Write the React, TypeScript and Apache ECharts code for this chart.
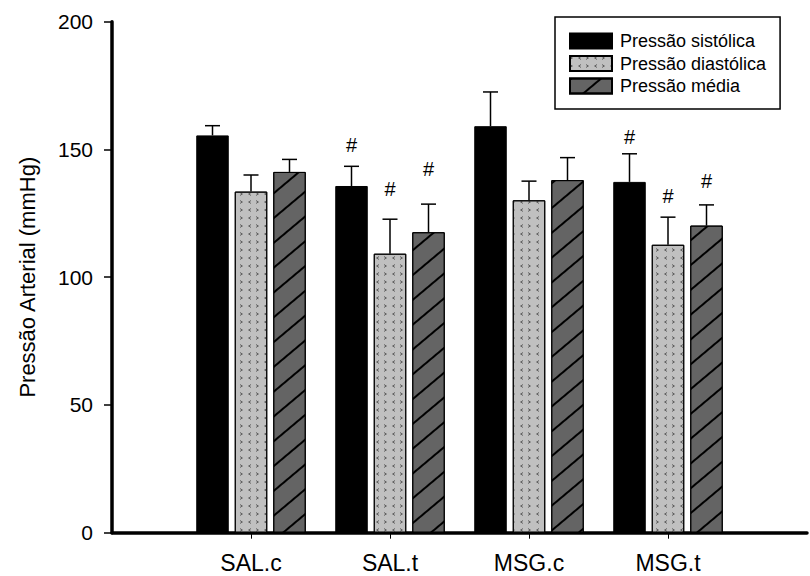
import React, { useEffect, useRef } from "react";
import * as echarts from "echarts";

const categories = ["SAL.c", "SAL.t", "MSG.c", "MSG.t"];
const seriesNames = ["Pressão sistólica", "Pressão diastólica", "Pressão média"];
const sistolica = [155.5, 135.7, 159.1, 137.3];
const sistolicaErr = [3.8, 7.7, 13.4, 11.0];
const diastolica = [133.5, 109.2, 130.1, 112.7];
const diastolicaErr = [6.5, 13.5, 7.5, 10.8];
const media = [141.2, 117.6, 138.0, 120.2];
const mediaErr = [4.9, 11.0, 8.8, 8.1];
// "#" significance marks: [category index, series index, height of mark]
const hashMarks = [
  [1, 0, 151.7],
  [1, 1, 134.5],
  [1, 2, 142.3],
  [3, 0, 154.9],
  [3, 1, 131.8],
  [3, 2, 137.7],
];
const yTicks = [0, 50, 100, 150, 200];

const FONT = "'Liberation Sans', Arial, sans-serif";
const BAR_W = 32.5;
const GAP = 6;
const OFFSET = BAR_W + GAP;

export default function App() {
  const ref = useRef<HTMLDivElement>(null);
  useEffect(() => {
    if (!ref.current) return;
    const chart = echarts.init(ref.current, null, { renderer: "svg" });
    const axisCats = ["", ...categories, ""];
    const pad = (arr: number[]) => ["-", ...arr, "-"];
    const values = [sistolica, diastolica, media];
    const errs = [sistolicaErr, diastolicaErr, mediaErr];
    const errData: number[][] = [];
    values.forEach((vals, s) =>
      vals.forEach((v, i) => errData.push([i + 1, v, errs[s][i], s]))
    );
    const hashData = hashMarks.map((h) => [h[0] + 1, h[2], h[1]]);

    const decals: any[] = [
      undefined,
      {
        symbol: [
          "path://M0,0L10,6L0,12L0,9L6,6L0,3Z",
          "path://M10,0L0,6L10,12L10,9L4,6L10,3Z",
        ],
        symbolSize: 1,
        color: "#3a3a3a",
        dashArrayX: [[3, 5]],
        dashArrayY: [3.5, 4],
        rotation: 0,
      },
      {
        symbol: "rect",
        symbolSize: 1,
        color: "#000",
        dashArrayX: [1, 0],
        dashArrayY: [1.3, 16.5],
        rotation: -Math.PI / 4.5,
      },
    ];
    const colors = ["#000000", "#c0c0c0", "#646464"];

    const barSeries = values.map((vals, s) => ({
      name: seriesNames[s],
      type: "bar",
      data: pad(vals),
      barWidth: BAR_W,
      barGap: (GAP / BAR_W) * 100 + "%",
      itemStyle: {
        color: colors[s],
        borderColor: "#000",
        borderWidth: 1,
        decal: decals[s],
      },
      z: 2,
    }));

    chart.setOption({
      animation: false,
      grid: {
        left: 112,
        top: 21.7,
        right: 810 - (112 + 5 * 141.5),
        bottom: 576 - 532.7,
      },
      legend: {
        data: seriesNames,
        orient: "vertical",
        left: 555,
        top: 17,
        icon: "rect",
        itemWidth: 42,
        itemHeight: 15,
        itemGap: 4.5,
        padding: [15, 14, 14, 14],
        borderColor: "#000",
        borderWidth: 1.5,
        textStyle: { fontSize: 18, color: "#000", fontFamily: FONT, padding: [0, 0, 0, 3] },
      },
      xAxis: {
        type: "category",
        data: axisCats,
        boundaryGap: false,
        axisLine: { lineStyle: { color: "#000", width: 3.5 } },
        axisTick: {
          length: 6,
          lineStyle: { color: "#000", width: 1 },
          interval: (index: number) => index >= 1 && index <= 4,
        },
        axisLabel: {
          color: "#000",
          fontSize: 23,
          fontFamily: FONT,
          margin: 19,
          interval: 0,
        },
        splitLine: { show: false },
      },
      yAxis: {
        type: "value",
        min: 0,
        max: 200,
        interval: 50,
        name: "Pressão Arterial (mmHg)",
        nameLocation: "middle",
        nameGap: 74,
        nameTextStyle: { fontSize: 22, color: "#000", fontFamily: FONT },
        axisLine: { show: true, lineStyle: { color: "#000", width: 3.5 } },
        axisTick: { show: true, length: 8, lineStyle: { color: "#000", width: 1.5 } },
        axisLabel: {
          color: "#000",
          fontSize: 21,
          fontFamily: FONT,
          margin: 19,
          formatter: (v: number) => (yTicks.includes(v) ? String(v) : ""),
        },
        splitLine: { show: false },
      },
      series: [
        ...barSeries,
        {
          type: "custom",
          name: "err",
          data: errData,
          z: 3,
          renderItem: (params: any, api: any) => {
            const cat = api.value(0);
            const v = api.value(1);
            const e = api.value(2);
            const s = api.value(3);
            const base = api.coord([cat, v]);
            const top = api.coord([cat, v + e]);
            const x = base[0] + (s - 1) * OFFSET;
            return {
              type: "group",
              children: [
                {
                  type: "line",
                  shape: { x1: x, y1: base[1], x2: x, y2: top[1] },
                  style: { stroke: "#000", lineWidth: 1.5 },
                },
                {
                  type: "line",
                  shape: { x1: x - 7.5, y1: top[1], x2: x + 7.5, y2: top[1] },
                  style: { stroke: "#000", lineWidth: 1.5 },
                },
              ],
            };
          },
        },
        {
          type: "custom",
          name: "hash",
          data: hashData,
          z: 4,
          renderItem: (params: any, api: any) => {
            const cat = api.value(0);
            const v = api.value(1);
            const s = api.value(2);
            const p = api.coord([cat, v]);
            return {
              type: "text",
              x: p[0] + (s - 1) * OFFSET,
              y: p[1],
              style: {
                text: "#",
                fill: "#000",
                fontSize: 20,
                fontFamily: FONT,
                align: "center",
                verticalAlign: "middle",
              },
            };
          },
        },
      ],
    });
    return () => chart.dispose();
  }, []);
  return (
    <div
      ref={ref}
      style={{ position: "absolute", left: 0, top: 0, width: 810, height: 576, background: "#fff" }}
    />
  );
}
